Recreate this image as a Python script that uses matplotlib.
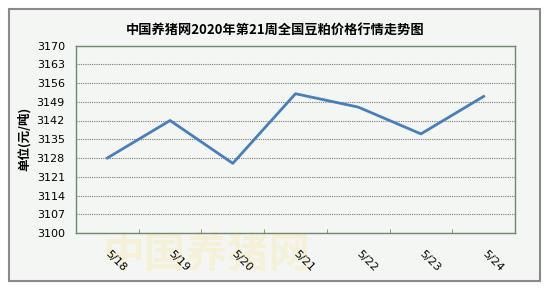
import matplotlib
matplotlib.use("Agg")
import matplotlib.pyplot as plt
from matplotlib.patches import Rectangle

plt.rcParams['font.family'] = ['Noto Sans CJK SC', 'DejaVu Sans']

#----- data -----
dates = ['5/18', '5/19', '5/20', '5/21', '5/22', '5/23', '5/24']
prices = [3128, 3142, 3126, 3152, 3147, 3137, 3151]
yticks = [3100, 3107, 3114, 3121, 3128, 3135, 3142, 3149, 3156, 3163, 3170]

bg = '#f4f6f4'

fig = plt.figure(figsize=(5.5, 2.91), dpi=100)
fig.patch.set_facecolor('white')

# outer gray frame
fig.patches.append(Rectangle((9/550, 1-281/291), 531/550, 272/291,
                             transform=fig.transFigure, facecolor=bg,
                             edgecolor='#8a8a8a', linewidth=1.5, zorder=-10))

# faint watermark
fig.text(0.375, 1-255/291, '中国养猪网', fontsize=30, fontweight='bold',
         color='#f6eec8', alpha=0.6, ha='center', va='center', zorder=-5)

ax = fig.add_axes([76/550, 1-233/291, 439/550, 187.5/291])
ax.set_facecolor(bg)
ax.patch.set_alpha(0)

x = list(range(len(dates)))
ax.plot(x, prices, color='#4a7ebb', linewidth=2, zorder=3)

ax.set_xlim(-0.5, len(dates) - 0.5)
ax.set_ylim(3100, 3170)
ax.set_yticks(yticks)
ax.set_yticklabels([str(v) for v in yticks], fontsize=8, family='DejaVu Sans')
ax.set_xticks(x)
ax.set_xticklabels(dates, rotation=-45, fontsize=8, ha='left', va='center',
                   rotation_mode='anchor', family='DejaVu Sans')
ax.tick_params(axis='x', length=0, pad=14)
ax.tick_params(axis='y', length=0, pad=8)

# small category separators on the bottom axis
ax.set_xticks([i + 0.5 for i in range(len(dates) - 1)], minor=True)
ax.tick_params(axis='x', which='minor', direction='in', length=3, color='#6e8a6e')

ax.grid(axis='y', linestyle=(0, (1, 1)), color='#777777', linewidth=0.8)
for s in ax.spines.values():
    s.set_color('#6e8a6e')
    s.set_linewidth(1)

ax.set_ylabel('单位(元/吨)', fontsize=9, fontweight='bold', labelpad=4)
fig.text(0.5, 1-30/291, '中国养猪网2020年第21周全国豆粕价格行情走势图',
         ha='center', va='center', fontsize=9.5, fontweight='bold')

fig.savefig('out.png', dpi=100)
